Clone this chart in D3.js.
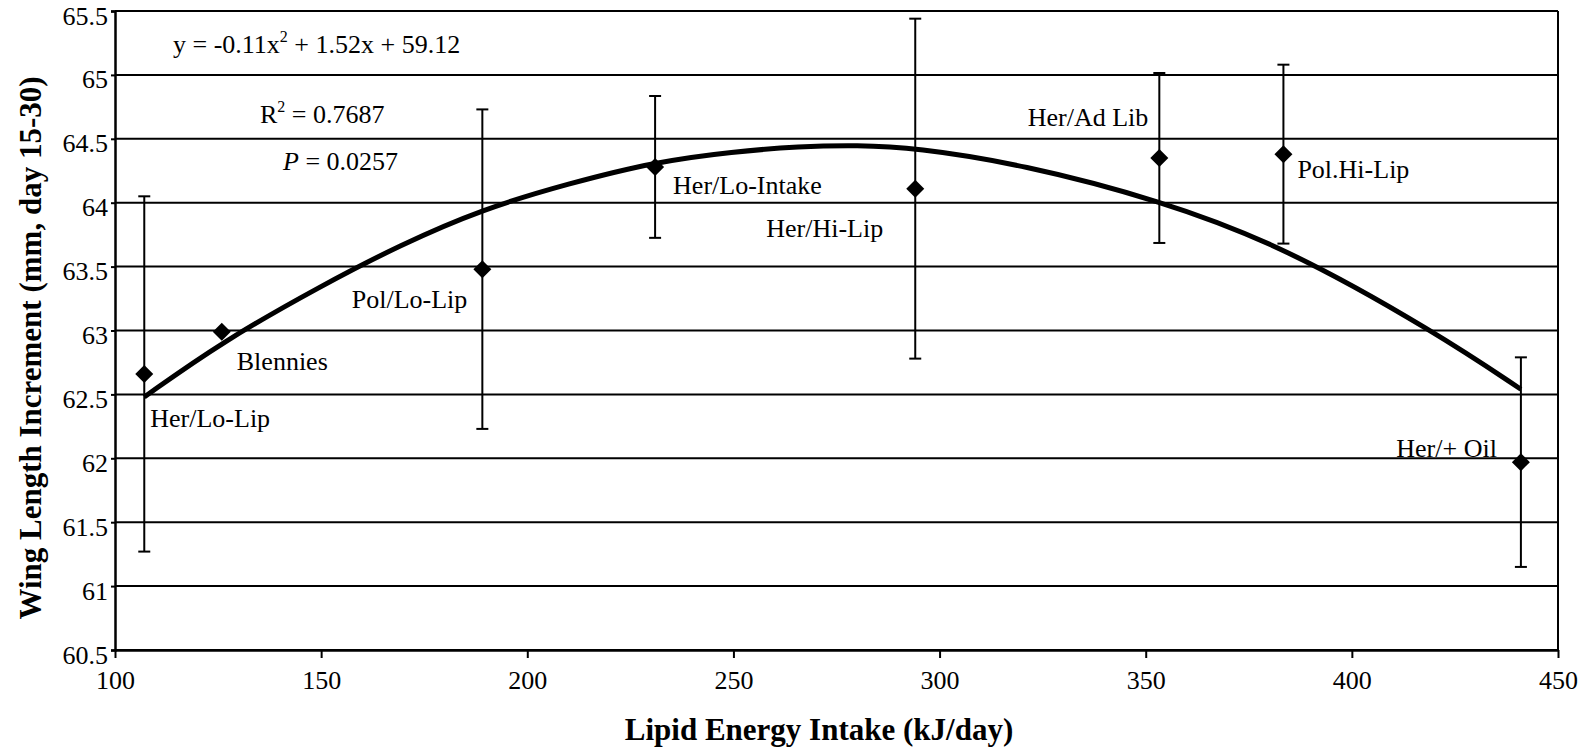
<!DOCTYPE html>
<html>
<head>
<meta charset="utf-8">
<script src="https://cdn.jsdelivr.net/npm/d3@7"></script>
<style>
  body { margin: 0; background: #fff; }
  svg { display: block; font-family: "Liberation Serif", "Times New Roman", serif; }
</style>
</head>
<body>
<div id="chart"></div>
<script>
// treatments
var treatments = ["Her/Lo-Lip", "Blennies", "Pol/Lo-Lip", "Her/Lo-Intake", "Her/Hi-Lip", "Her/Ad Lib", "Pol.Hi-Lip", "Her/+ Oil"];
var lipidIntake = [107.1, 125.9, 189.1, 231.0, 294.1, 353.3, 383.4, 441.0];
var wingIncrement = [62.66, 62.99, 63.48, 64.28, 64.11, 64.35, 64.38, 61.97];
var errorHalf = [1.39, 0, 1.25, 0.555, 1.33, 0.665, 0.70, 0.82];

// fitted curve
var trendX = [107.1, 125.9, 150, 169.2, 189.1, 210, 231, 250, 266, 280, 294, 320, 353.3, 383.4, 420.6, 441];
var trendY = [62.48, 62.91, 63.35, 63.67, 63.95, 64.15, 64.32, 64.40, 64.44, 64.45, 64.43, 64.30, 64.02, 63.66, 62.98, 62.54];

var xTicks = [100, 150, 200, 250, 300, 350, 400, 450];
var yTicks = [60.5, 61, 61.5, 62, 62.5, 63, 63.5, 64, 64.5, 65, 65.5];

// label placement relative to each marker (px)
var labelPos = [
  {dx: 6, dy: 53, anchor: "start"},
  {dx: 15, dy: 38, anchor: "start"},
  {dx: -15, dy: 39, anchor: "end"},
  {dx: 18, dy: 27, anchor: "start"},
  {dx: -32, dy: 48, anchor: "end"},
  {dx: -11, dy: -32, anchor: "end"},
  {dx: 14, dy: 24, anchor: "start"},
  {dx: -24, dy: -5, anchor: "end"}
];

var width = 1595, height = 750;
var svg = d3.select("#chart").append("svg")
    .attr("width", width)
    .attr("height", height);

var x = d3.scaleLinear().domain([100, 450]).range([115, 1558]);
var y = d3.scaleLinear().domain([60.5, 65.5]).range([650, 11]);

// gridlines
svg.append("g")
  .selectAll("line")
  .data(yTicks)
  .enter().append("line")
    .attr("x1", x(100)).attr("x2", x(450))
    .attr("y1", d => y(d)).attr("y2", d => y(d))
    .attr("stroke", "#000")
    .attr("stroke-width", 2);

// right border
svg.append("line")
    .attr("x1", x(450)).attr("x2", x(450))
    .attr("y1", y(65.5)).attr("y2", y(60.5))
    .attr("stroke", "#000").attr("stroke-width", 2);

var yAxis = svg.append("g")
    .attr("transform", "translate(" + x(100) + ",0)")
    .call(d3.axisLeft(y).tickValues(yTicks).tickSize(4).tickFormat(d3.format("")));
yAxis.select(".domain").attr("stroke-width", 2.5);
yAxis.selectAll(".tick line").attr("stroke-width", 2);
yAxis.selectAll("text")
    .attr("font-size", 26)
    .attr("font-family", "Liberation Serif")
    .attr("fill", "#000")
    .attr("x", -7)
    .attr("dy", "0.5em");

var xAxis = svg.append("g")
    .attr("transform", "translate(0," + y(60.5) + ")")
    .call(d3.axisBottom(x).tickValues(xTicks).tickSize(8).tickSizeOuter(0));
xAxis.select(".domain").attr("stroke-width", 2.5);
xAxis.selectAll(".tick line").attr("stroke-width", 2);
xAxis.selectAll("text")
    .attr("font-size", 26)
    .attr("font-family", "Liberation Serif")
    .attr("fill", "#000")
    .attr("y", 21);

// trend curve
var trend = d3.line()
    .x(d => x(d[0]))
    .y(d => y(d[1]))
    .curve(d3.curveBasis);
svg.append("path")
    .datum(d3.zip(trendX, trendY))
    .attr("d", trend)
    .attr("fill", "none")
    .attr("stroke", "#000")
    .attr("stroke-width", 5);

var pts = treatments.map(function(t, i) {
  return {name: t, x: lipidIntake[i], y: wingIncrement[i], e: errorHalf[i], pos: labelPos[i]};
});

// error bars
var eb = svg.append("g").attr("stroke", "#000").attr("stroke-width", 2);
pts.filter(d => d.e > 0).forEach(function(d) {
  var cx = x(d.x);
  eb.append("line").attr("x1", cx).attr("x2", cx).attr("y1", y(d.y + d.e)).attr("y2", y(d.y - d.e));
  eb.append("line").attr("x1", cx - 6).attr("x2", cx + 6).attr("y1", y(d.y + d.e)).attr("y2", y(d.y + d.e));
  eb.append("line").attr("x1", cx - 6).attr("x2", cx + 6).attr("y1", y(d.y - d.e)).attr("y2", y(d.y - d.e));
});

// diamonds
svg.append("g")
  .selectAll("path")
  .data(pts)
  .enter().append("path")
    .attr("transform", d => "translate(" + x(d.x) + "," + y(d.y) + ")")
    .attr("d", "M0,-9L9,0L0,9L-9,0Z")
    .attr("fill", "#000");

// point labels
svg.append("g")
  .selectAll("text")
  .data(pts)
  .enter().append("text")
    .attr("x", d => x(d.x) + d.pos.dx)
    .attr("y", d => y(d.y) + d.pos.dy)
    .attr("text-anchor", d => d.pos.anchor)
    .attr("font-size", 26)
    .text(d => d.name);

// regression annotations
var eq = svg.append("text").attr("x", 173).attr("y", 53).attr("font-size", 26);
eq.append("tspan").text("y = -0.11x");
eq.append("tspan").attr("font-size", 16).attr("dy", -11).text("2");
eq.append("tspan").attr("dy", 11).text("  + 1.52x + 59.12");

var r2 = svg.append("text").attr("x", 260).attr("y", 123).attr("font-size", 26);
r2.append("tspan").text("R");
r2.append("tspan").attr("font-size", 16).attr("dy", -11).text("2");
r2.append("tspan").attr("dy", 11).text(" = 0.7687");

var pv = svg.append("text").attr("x", 283).attr("y", 170).attr("font-size", 26);
pv.append("tspan").attr("font-style", "italic").text("P");
pv.append("tspan").text(" = 0.0257");

// axis titles
svg.append("text")
    .attr("x", 819)
    .attr("y", 740)
    .attr("text-anchor", "middle")
    .attr("font-size", 31)
    .attr("font-weight", "bold")
    .text("Lipid Energy Intake (kJ/day)");

svg.append("text")
    .attr("transform", "translate(41,348) rotate(-90)")
    .attr("text-anchor", "middle")
    .attr("font-size", 31)
    .attr("font-weight", "bold")
    .text("Wing Length Increment (mm, day 15-30)");
</script>
</body>
</html>
